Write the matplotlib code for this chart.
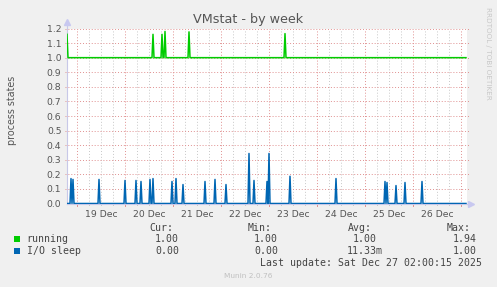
import numpy as np
import matplotlib
matplotlib.use("Agg")
import matplotlib.pyplot as plt
from matplotlib.patches import Rectangle

W, H = 497, 287

# time in days since 19 Dec 00:00, 30 minute samples
t_start = -0.2146
n_samples = 400
day_labels = ["19 Dec", "20 Dec", "21 Dec", "22 Dec", "23 Dec", "24 Dec", "25 Dec", "26 Dec"]

# running: baseline plus spikes (day, value)
running_base = 1.0
running_spike_t = [-0.2146, 1.583, 1.771, 1.821, 2.333, 4.321]
running_spike_v = [1.16, 1.16, 1.16, 1.18, 1.177, 1.165]

# I/O sleep: baseline plus spikes
iosleep_base = 0.0
iosleep_spike_t = [-0.1375, -0.096, 0.446, 0.9875, 1.217, 1.321, 1.508, 1.583, 1.967, 2.0625,
                   2.196, 2.654, 2.875, 3.092, 3.571, 3.6875, 3.946, 4.0, 4.4375, 5.383,
                   6.405, 6.458, 6.646, 6.833, 7.1875]
iosleep_spike_v = [0.171, 0.165, 0.165, 0.158, 0.158, 0.151, 0.165, 0.171, 0.151, 0.171,
                   0.130, 0.151, 0.165, 0.130, 0.343, 0.158, 0.151, 0.343, 0.187, 0.171,
                   0.151, 0.144, 0.123, 0.144, 0.151]

legend_names = ["running", "I/O sleep"]
legend_colors = ["#00CC00", "#0066B3"]
legend_cur = ["1.00", "0.00"]
legend_min = ["1.00", "0.00"]
legend_avg = ["1.00", "11.33m"]
legend_max = ["1.94", "1.00"]

t = t_start + np.arange(n_samples) / 48.0


def build(base, st, sv):
    y = np.full(n_samples, base)
    for a, v in zip(st, sv):
        i = int(round((a - t_start) * 48))
        y[i] = v
    return y


running = build(running_base, running_spike_t, running_spike_v)
iosleep = build(iosleep_base, iosleep_spike_t, iosleep_spike_v)

fig = plt.figure(figsize=(W / 100, H / 100), dpi=100, facecolor="#F0F0F0")
x0, x1, y0, y1 = 67, 467, 28.5, 203.5
ax = fig.add_axes([x0 / W, 1 - y1 / H, (x1 - x0) / W, (y1 - y0) / H])
ax.set_facecolor("white")

x_end = t_start + n_samples / 48.0
ax.set_xlim(t_start, x_end)
ax.set_ylim(0, 1.2)

# grid
for d in np.arange(-0.0, 8.1, 0.25):
    if abs(d - round(d)) < 1e-6:
        continue
    ax.axvline(d, color="#C8C8C8", lw=0.7, ls=(0, (1, 2)), zorder=0)
    ax.plot([d, d], [0, -0.012], color="#C8C8C8", lw=0.7, clip_on=False)
for d in range(0, 9):
    ax.axvline(d, color="#E09090", lw=0.7, ls=(0, (1, 2)), zorder=0.5)
    ax.plot([d, d], [0, -0.016], color="#E09090", lw=0.7, clip_on=False)
for v in np.arange(0.1, 1.21, 0.1):
    ax.plot([t_start - 0.04, x_end + 0.04], [v, v], color="#E09090", lw=0.7,
            ls=(0, (1, 2)), zorder=0.5, clip_on=False)

ax.plot(t, running, color=legend_colors[0], lw=1.1, zorder=3)
ax.plot(t, iosleep, color=legend_colors[1], lw=1.1, zorder=3)

ax.set_xticks(np.arange(8) + 0.5)
ax.set_xticklabels(day_labels)
ax.set_yticks(np.arange(0, 1.21, 0.1))
ax.set_yticklabels(["%.1f" % v for v in np.arange(0, 1.21, 0.1)])
ax.tick_params(axis="both", length=0, labelsize=6.7, labelcolor="#555555", pad=4)
ax.tick_params(axis="x", pad=5)

for s in ["top", "right"]:
    ax.spines[s].set_visible(False)
for s in ["left", "bottom"]:
    ax.spines[s].set_color("#C8C8E8")
    ax.spines[s].set_linewidth(0.8)

# axis arrows
ax.plot([0, 0], [1.0, 1.04], transform=ax.transAxes, color="#C8C8E8", lw=0.8, clip_on=False)
ax.plot([0], [1.04], marker="^", ms=4, color="#C8C8F0", transform=ax.transAxes, clip_on=False)
ax.plot([1.0, 1.01], [0, 0], transform=ax.transAxes, color="#C8C8E8", lw=0.8, clip_on=False)
ax.plot([1.01], [0], marker=">", ms=4, color="#C8C8F0", transform=ax.transAxes, clip_on=False)


def ftext(x, y, s, **kw):
    fig.text(x / W, 1 - y / H, s, **kw)


ftext(248, 19, "VMstat - by week", fontsize=9.2, color="#555555", ha="center", va="center")
ftext(11.7, 110.8, "process states", fontsize=6.9, color="#555555", ha="center", va="center",
      rotation=90)
ftext(488, 53, "RRDTOOL / TOBI OETIKER", fontsize=5.2, color="#C8C8C8", ha="center",
      va="center", rotation=270)

mono = dict(family="DejaVu Sans Mono", fontsize=7.1, color="#444444", va="center")
ftext(149, 228, "Cur:", **mono)
ftext(248, 228, "Min:", **mono)
ftext(348, 228, "Avg:", **mono)
ftext(447, 228, "Max:", **mono)
rows_y = [239.3, 251]
for i in range(2):
    yy = rows_y[i]
    fig.patches.append(Rectangle((14 / W, 1 - (yy + 3) / H), 6 / W, 6 / H,
                                 transform=fig.transFigure, facecolor=legend_colors[i],
                                 edgecolor="none"))
    ftext(26.7, yy, legend_names[i], **mono)
    ftext(179, yy, legend_cur[i], ha="right", **mono)
    ftext(278, yy, legend_min[i], ha="right", **mono)
    ftext(383 if legend_avg[i].endswith("m") else 377, yy, legend_avg[i], ha="right", **mono)
    ftext(477, yy, legend_max[i], ha="right", **mono)

ftext(482.3, 263.3, "Last update: Sat Dec 27 02:00:15 2025", ha="right", **mono)
ftext(248, 276, "Munin 2.0.76", fontsize=5.3, color="#C0C0C0", ha="center", va="center")

fig.savefig("out.png", dpi=100, facecolor=fig.get_facecolor())
